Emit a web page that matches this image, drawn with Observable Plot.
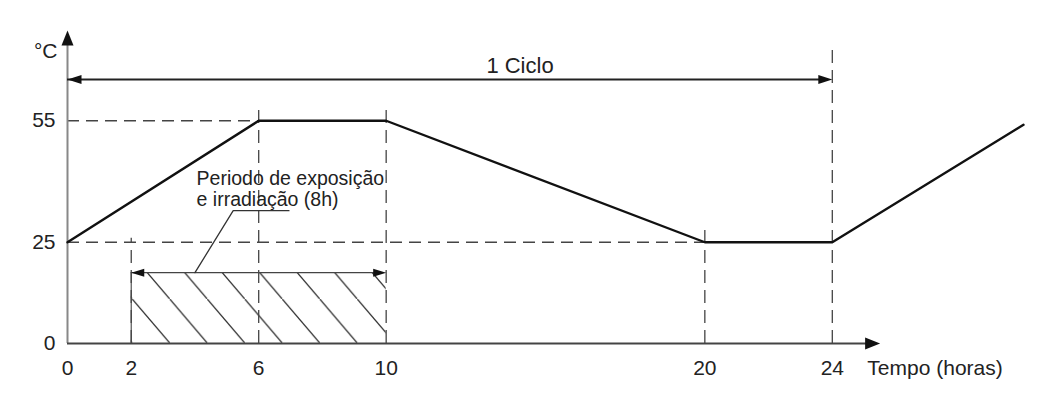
<!DOCTYPE html>
<html><head><meta charset="utf-8">
<script src="https://cdn.jsdelivr.net/npm/d3@7"></script>
<script src="https://cdn.jsdelivr.net/npm/@observablehq/plot@0.6"></script>
<style>body{margin:0;background:#fff} svg{display:block}</style>
</head><body><div id="chart"></div>
<script>
// ---- data ----
const tempoHoras = [0, 6, 10, 20, 24, 30];
const temperaturaC = [25, 55, 55, 25, 25, 54];
const xTickValues = [0, 2, 6, 10, 20, 24];
const yTickValues = [0, 25, 55];
const guiaVerticalX = [2, 6, 10, 20, 24];
const guiaVerticalTopo = [26, 59, 58, 29, 73];
const guiaHorizontalY = [55, 25];
const guiaHorizontalFim = [6, 20];
const cicloInicio = 0, cicloFim = 24, cicloNivel = 65.2;
const exposicaoInicio = 2, exposicaoFim = 10, exposicaoNivel = 17.5;
const chamadaX = [4.0, 5.2, 6.95];
const chamadaY = [17.5, 32.8, 32.8];
const eixoXFim = 25.5, eixoYFim = 77.3;
const textoExposicao = ["Periodo de exposição", "e irradiação (8h)"];
const textoExposicaoPos = [4.05, 33.9];
const textoCiclo = "1 Ciclo";
const textoCicloX = 14.2;
const textoEixoX = "Tempo (horas)";
const textoEixoXPos = 25.1;
const textoEixoY = "°C";
const textoEixoYPos = 70.6;

// ---- arrowhead symbols (tip at origin, pointing up) ----
const cabeca = (len, half) => ({draw(ctx) { ctx.moveTo(0, 0); ctx.lineTo(-half, len); ctx.lineTo(half, len); ctx.closePath(); }});

const linha = tempoHoras.map((x, i) => ({x, y: temperaturaC[i]}));
const chamada = chamadaX.map((x, i) => ({x, y: chamadaY[i]}));
const cabecasEixo = [
  {x: 0, y: eixoYFim, r: 0},
  {x: eixoXFim, y: 0, r: 90}
];
const cabecasCiclo = [
  {x: cicloInicio, y: cicloNivel, r: -90},
  {x: cicloFim, y: cicloNivel, r: 90}
];
const cabecasExposicao = [
  {x: exposicaoInicio, y: exposicaoNivel, r: -90},
  {x: exposicaoFim, y: exposicaoNivel, r: 90}
];

const svg = Plot.plot({
  width: 1061, height: 409,
  marginLeft: 67, marginRight: 38, marginTop: 19, marginBottom: 66,
  x: {domain: [0, 30]},
  y: {domain: [0, 80]},
  style: {fontFamily: "'Liberation Sans', Arial, sans-serif", fontSize: "21px", color: "#222", background: "#fff"},
  marks: [
    Plot.rect([0], {x1: exposicaoInicio, x2: exposicaoFim, y1: 0, y2: exposicaoNivel, fill: "url(#hachura)"}),
    Plot.ruleX([exposicaoInicio], {y1: 0, y2: exposicaoNivel, stroke: "#555", strokeWidth: 1.2}),
    Plot.ruleX(guiaVerticalX, {x: d => d, y1: 0, y2: (d, i) => guiaVerticalTopo[i], stroke: "#444", strokeWidth: 1.3, strokeDasharray: "13,7"}),
    Plot.ruleY(guiaHorizontalY, {y: d => d, x1: 0, x2: (d, i) => guiaHorizontalFim[i], stroke: "#444", strokeWidth: 1.6, strokeDasharray: "12,7"}),
    Plot.ruleX([0], {y1: 0, y2: eixoYFim - 3, stroke: "#888", strokeWidth: 2}),
    Plot.ruleY([0], {x1: 0, x2: eixoXFim - 0.3, stroke: "#444", strokeWidth: 1.8}),
    Plot.ruleY([cicloNivel], {x1: cicloInicio, x2: cicloFim - 0.3, stroke: "#222", strokeWidth: 2}),
    Plot.ruleY([exposicaoNivel], {x1: exposicaoInicio, x2: exposicaoFim - 0.2, stroke: "#444", strokeWidth: 1.3}),
    Plot.line(chamada, {x: "x", y: "y", stroke: "#333", strokeWidth: 1.3}),
    Plot.line(linha, {x: "x", y: "y", stroke: "#111", strokeWidth: 2.4}),
    Plot.dot(cabecasEixo, {x: "x", y: "y", rotate: "r", symbol: cabeca(15, 6), fill: "#111", stroke: "none"}),
    Plot.dot(cabecasCiclo, {x: "x", y: "y", rotate: "r", symbol: cabeca(14, 4.5), fill: "#111", stroke: "none"}),
    Plot.dot(cabecasExposicao, {x: "x", y: "y", rotate: "r", symbol: cabeca(13, 4), fill: "#111", stroke: "none"}),
    Plot.axisX(xTickValues, {tickSize: 0, tickPadding: 17, label: null, fontSize: 21}),
    Plot.axisY(yTickValues, {tickSize: 0, tickPadding: 12, label: null, fontSize: 21}),
    Plot.text([textoCiclo], {x: textoCicloX, y: cicloNivel, dy: -6, lineAnchor: "bottom", textAnchor: "middle", fontSize: 22}),
    Plot.text([textoExposicao.join("\n")], {x: textoExposicaoPos[0], y: textoExposicaoPos[1], lineAnchor: "bottom", textAnchor: "start", lineHeight: 1.1, fontSize: 19.5}),
    Plot.text([textoEixoX], {x: textoEixoXPos, y: 0, dy: 17, lineAnchor: "top", textAnchor: "start", fontSize: 21}),
    Plot.text([textoEixoY], {x: 0, y: textoEixoYPos, dx: -10, lineAnchor: "bottom", textAnchor: "end", fontSize: 21})
  ]
});

const sx = svg.scale("x"), sy = svg.scale("y");
const ns = "http://www.w3.org/2000/svg";
const defs = document.createElementNS(ns, "defs");
const pat = document.createElementNS(ns, "pattern");
pat.setAttribute("id", "hachura");
pat.setAttribute("patternUnits", "userSpaceOnUse");
pat.setAttribute("width", "37.5");
pat.setAttribute("height", "44");
pat.setAttribute("x", sx.apply(exposicaoInicio) + 39);
pat.setAttribute("y", sy.apply(0));
const p = document.createElementNS(ns, "path");
p.setAttribute("d", "M-4,-4.7L41.5,48.7");
p.setAttribute("stroke", "#333");
p.setAttribute("stroke-width", "1.3");
p.setAttribute("fill", "none");
pat.appendChild(p);
defs.appendChild(pat);
svg.insertBefore(defs, svg.firstChild);
document.getElementById("chart").appendChild(svg);
</script>
</body></html>
